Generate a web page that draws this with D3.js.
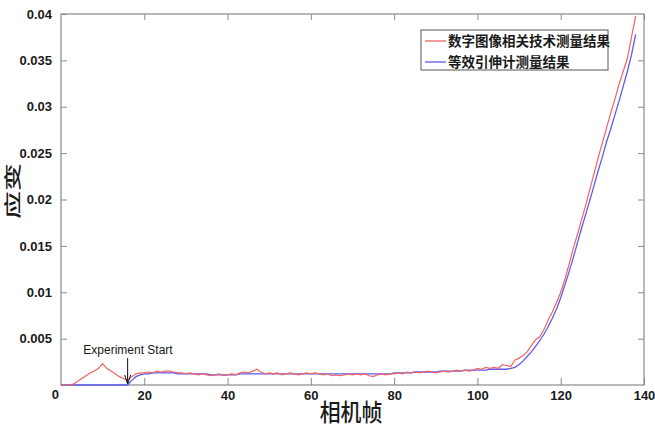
<!DOCTYPE html>
<html><head><meta charset="utf-8">
<script src="https://cdn.jsdelivr.net/npm/d3@7"></script>
<style>
html,body{margin:0;padding:0;background:#fff;}
svg{display:block;}
</style></head>
<body>
<svg id="c" width="655" height="429"></svg>
<script>
const xTicks = [20,40,60,80,100,120,140];
const yTicks = [0,0.005,0.01,0.015,0.02,0.025,0.03,0.035,0.04];
const yTickLabels = ["0","0.005","0.01","0.015","0.02","0.025","0.03","0.035","0.04"];
const seriesNames = ["数字图像相关技术测量结果","等效引伸计测量结果"];
const xLabel = "相机帧";
const yLabel = "应变";
const annotation = {text:"Experiment Start", frame:16};

const dicStrain = [
0,0,0,0.0001,0.0004,0.0007,0.0010,0.0013,0.0015,0.0018,
0.0023,0.0018,0.0015,0.0012,0.0009,0.0007,0.0005,0.0009,0.0012,0.0013,
0.0013,0.0014,0.0013,0.0015,0.0014,0.0015,0.0015,0.0014,0.0013,0.0013,
0.0012,0.0013,0.0012,0.0011,0.0012,0.0011,0.0010,0.0011,0.0012,0.0010,
0.0011,0.0012,0.0011,0.0013,0.0014,0.0013,0.0015,0.0017,0.0014,0.0012,
0.0013,0.0012,0.0013,0.0011,0.0012,0.0013,0.0012,0.0011,0.0012,0.0013,
0.0012,0.0013,0.0012,0.0011,0.0012,0.0010,0.0011,0.0010,0.0011,0.0012,
0.0011,0.0012,0.0011,0.0012,0.0010,0.0009,0.0011,0.0012,0.0011,0.0012,
0.0012,0.0013,0.0012,0.0014,0.0013,0.0014,0.0013,0.0014,0.0015,0.0014,
0.0013,0.0014,0.0015,0.0014,0.0015,0.0016,0.0015,0.0016,0.0015,0.0016,
0.0018,0.0017,0.0019,0.0018,0.0019,0.0018,0.0022,0.0021,0.0020,0.0027,
0.0029,0.0032,0.0036,0.0043,0.0049,0.0052,0.0060,0.0070,0.0079,0.0089,
0.0100,0.0114,0.0130,0.0147,0.0162,0.0178,0.0194,0.0211,0.0228,0.0245,
0.0261,0.0277,0.0293,0.0308,0.0324,0.0338,0.0352,0.0375,0.0398
];
const extStrain = [
0,0,0,0,0,0,0,0,0,0,
0,0,0,0,0,0,0,0.0005,0.0009,0.0011,
0.0012,0.0012,0.0013,0.0013,0.0013,0.0013,0.0013,0.0013,0.0012,0.0012,
0.0012,0.0012,0.0012,0.0012,0.0012,0.0012,0.0011,0.0011,0.0011,0.0011,
0.0011,0.0011,0.0011,0.0012,0.0012,0.0012,0.0012,0.0012,0.0012,0.0012,
0.0012,0.0012,0.0012,0.0012,0.0012,0.0012,0.0012,0.0012,0.0012,0.0012,
0.0012,0.0012,0.0012,0.0012,0.0012,0.0012,0.0012,0.0012,0.0012,0.0012,
0.0012,0.0012,0.0012,0.0012,0.0012,0.0012,0.0012,0.0012,0.0012,0.0012,
0.0013,0.0013,0.0013,0.0013,0.0013,0.0014,0.0014,0.0014,0.0014,0.0014,
0.0014,0.0015,0.0015,0.0015,0.0015,0.0015,0.0015,0.0016,0.0016,0.0016,
0.0016,0.0016,0.0016,0.0017,0.0017,0.0017,0.0017,0.0017,0.0018,0.0019,
0.0022,0.0026,0.0031,0.0036,0.0042,0.0048,0.0055,0.0063,0.0072,0.0082,
0.0094,0.0108,0.0122,0.0137,0.0153,0.0169,0.0184,0.0199,0.0215,0.0231,
0.0246,0.0262,0.0276,0.0291,0.0306,0.0322,0.0338,0.0356,0.0378
];
const frames = d3.range(dicStrain.length);

const svg = d3.select("#c");
const L=61, R=644, T=14, B=385;
const x = d3.scaleLinear().domain([0,140]).range([L,R]);
const y = d3.scaleLinear().domain([0,0.04]).range([B,T]);
const axisColor = "#8a8a8a";
const tickFont = "'Liberation Sans', Arial, sans-serif";
const cjk = "'Noto Sans CJK SC', sans-serif";

svg.append("rect").attr("x",L).attr("y",T).attr("width",R-L).attr("height",B-T)
  .attr("fill","none").attr("stroke",axisColor).attr("stroke-width",1.2);

function styleAxis(g){
  g.select(".domain").remove();
  g.selectAll(".tick line").attr("stroke",axisColor).attr("stroke-width",1);
  g.selectAll(".tick text").attr("fill","#1a1a1a").attr("font-family",tickFont)
    .attr("font-weight","bold").attr("font-size",13);
}
const gx = svg.append("g").attr("transform",`translate(0,${B})`)
  .call(d3.axisBottom(x).tickValues(xTicks).tickSizeInner(-7).tickSizeOuter(0).tickPadding(6));
styleAxis(gx);
const gxt = svg.append("g").attr("transform",`translate(0,${T})`)
  .call(d3.axisTop(x).tickValues(xTicks).tickSizeInner(-6).tickSizeOuter(0).tickFormat(""));
styleAxis(gxt);
const gy = svg.append("g").attr("transform",`translate(${L},0)`)
  .call(d3.axisLeft(y).tickValues(yTicks).tickSizeInner(-6).tickSizeOuter(0).tickPadding(9)
    .tickFormat((d,i)=>yTickLabels[i]));
styleAxis(gy);
gy.selectAll(".tick").filter(d=>d===0).select("line").remove();
gy.selectAll(".tick").filter(d=>d===0).select("text").attr("dy","1.0em").attr("x",-2);
const gyr = svg.append("g").attr("transform",`translate(${R},0)`)
  .call(d3.axisRight(y).tickValues(yTicks.filter(d=>d>0 && d<0.04)).tickSizeInner(-6).tickSizeOuter(0).tickFormat(""));
styleAxis(gyr);

const line = arr => d3.line().x((d,i)=>x(frames[i])).y(d=>y(d))(arr);
svg.append("path").attr("d",line(extStrain)).attr("fill","none")
  .attr("stroke","#5c5cf0").attr("stroke-width",1.3);
svg.append("path").attr("d",line(dicStrain)).attr("fill","none")
  .attr("stroke","#f06464").attr("stroke-width",1.2);

const ax = x(annotation.frame);
svg.append("text").attr("x",128).attr("y",354).attr("text-anchor","middle")
  .attr("font-family",tickFont).attr("font-size",12).attr("fill","#1a1a1a").text(annotation.text);
svg.append("line").attr("x1",ax).attr("x2",ax).attr("y1",358).attr("y2",383)
  .attr("stroke","#111").attr("stroke-width",1);
svg.append("path").attr("d",`M${ax-3},${375} L${ax},${384} L${ax+3},${375}`)
  .attr("fill","none").attr("stroke","#111").attr("stroke-width",1);

const lg = svg.append("g");
lg.append("rect").attr("x",421).attr("y",30).attr("width",187).attr("height",40)
  .attr("fill","#fff").attr("stroke","#555").attr("stroke-width",1);
const colors = ["#f06464","#5c5cf0"];
seriesNames.forEach((n,i)=>{
  const yy = 41 + i*21;
  lg.append("line").attr("x1",425).attr("x2",446).attr("y1",yy).attr("y2",yy)
    .attr("stroke",colors[i]).attr("stroke-width",1.3);
  lg.append("text").attr("x",448).attr("y",yy).attr("dy","0.36em")
    .attr("font-family",cjk).attr("font-weight","bold").attr("font-size",13.5)
    .attr("fill","#1a1a1a").text(n);
});

svg.append("text").attr("transform","translate(351,421) scale(0.95,1.08)").attr("text-anchor","middle")
  .attr("font-family",cjk).attr("font-weight","500").attr("font-size",22).attr("fill","#1a1a1a").text(xLabel);
svg.append("text").attr("transform","translate(19,191) rotate(-90) scale(1.4,0.85)").attr("text-anchor","middle")
  .attr("font-family",cjk).attr("font-weight","500").attr("font-size",20).attr("fill","#1a1a1a").text(yLabel);
</script>
</body></html>
